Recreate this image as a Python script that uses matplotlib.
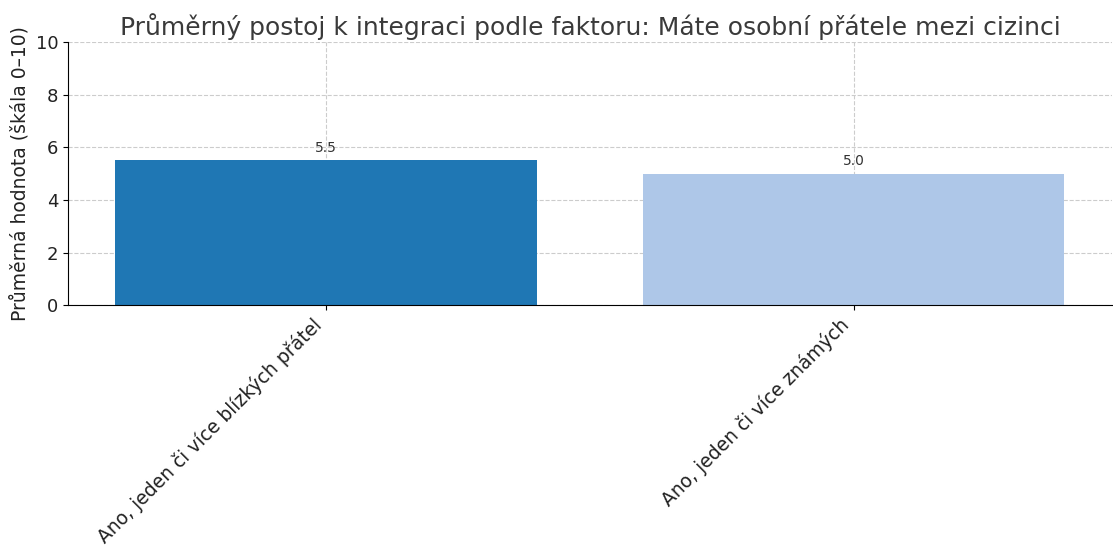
import matplotlib
matplotlib.use("Agg")
import matplotlib.pyplot as plt

# data
categories = ["Ano, jeden či více blízkých přátel", "Ano, jeden či více známých"]
values = [5.5, 5.0]
colors = ["#1f77b4", "#aec7e8"]
title = "Průměrný postoj k integraci podle faktoru: Máte osobní přátele mezi cizinci"
ylabel = "Průměrná hodnota (škála 0–10)"

plt.rcParams["font.family"] = ["DejaVu Sans"]

fig, ax = plt.subplots(figsize=(11.13, 5.45), dpi=100)
fig.subplots_adjust(left=0.061, right=0.999, top=0.923, bottom=0.44)

x = range(len(categories))
bars = ax.bar(x, values, color=colors, width=0.8, zorder=2)

for bar, val in zip(bars, values):
    ax.text(bar.get_x() + bar.get_width() / 2, val + 0.2, f"{val:.1f}",
            ha="center", va="bottom", fontsize=10, color="#333333")

ax.set_ylim(0, 10)
ax.set_xticks(list(x))
ax.set_xticklabels(categories, rotation=45, ha="right", fontsize=13.5, color="#222222")
ax.tick_params(axis="y", labelsize=13, labelcolor="#222222", color="black")
ax.set_ylabel(ylabel, fontsize=13.5, color="#222222")
ax.set_title(title, fontsize=18, color="#3a3a3a", pad=5)

ax.grid(True, linestyle="--", color="#cccccc", linewidth=0.8, zorder=3)
for g in ax.get_xgridlines() + ax.get_ygridlines():
    g.set_zorder(3)
ax.spines["top"].set_visible(False)
ax.spines["right"].set_visible(False)

fig.savefig("out.png", dpi=100)
